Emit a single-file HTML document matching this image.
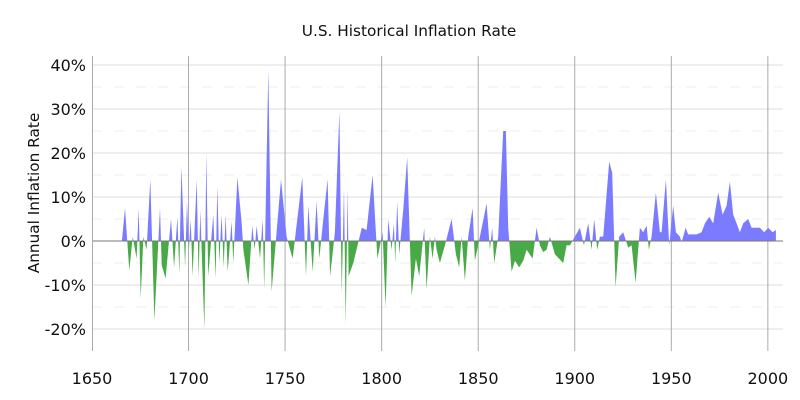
<!DOCTYPE html>
<html><head><meta charset="utf-8"><style>
html,body{margin:0;padding:0;background:#fff}
svg{display:block;font-family:"DejaVu Sans","Liberation Sans",sans-serif}
</style></head><body>
<svg id="s" width="800" height="400" viewBox="0 0 800 400">
<defs>
<clipPath id="top"><rect x="92" y="50" width="700" height="191"/></clipPath>
<clipPath id="bot"><rect x="92" y="241" width="700" height="120"/></clipPath>
</defs>
<rect width="800" height="400" fill="#fff"/>
<g id="grid"></g>
<path id="pos" fill="#7b7bff" clip-path="url(#top)"/>
<path id="neg" fill="#47aa47" clip-path="url(#bot)"/>
<line x1="92" y1="241" x2="783" y2="241" stroke="#777" stroke-width="1"/>
<line x1="92.5" y1="56" x2="92.5" y2="351" stroke="#aaa" stroke-width="1"/>
<text x="409" y="36" font-size="15.3" text-anchor="middle" fill="#111">U.S. Historical Inflation Rate</text>
<text transform="translate(39,193) rotate(-90)" font-size="15.3" text-anchor="middle" fill="#111">Annual Inflation Rate</text>
<g id="lab" font-size="16" fill="#111"></g>
</svg>
<script>
var X=function(y){return 92+(y-1650)*1.931},Y=function(v){return 241-v*4.4};
var g=document.getElementById('grid'),lab=document.getElementById('lab'),h='';
for(var v=-20;v<=40;v+=5){if(v==0)continue;var y=Y(v);
 if(v%10==0)h+='<line x1="92" x2="783" y1="'+y+'" y2="'+y+'" stroke="#ddd"/>';
 else h+='<line x1="92" x2="783" y1="'+y+'" y2="'+y+'" stroke="#eee" stroke-dasharray="10,12"/>';}
for(var yr=1700;yr<=2000;yr+=50){var x=X(yr);h+='<line x1="'+x+'" x2="'+x+'" y1="56" y2="351" stroke="#aaa"/>';}
g.innerHTML=h;
var l='';
for(var v=-20;v<=40;v+=10)l+='<text x="86" y="'+(Y(v)+6)+'" text-anchor="end">'+v+'%</text>';
for(var yr=1650;yr<=2000;yr+=50)l+='<text x="'+X(yr)+'" y="384" text-anchor="middle">'+yr+'</text>';
lab.innerHTML=l;
var A=[[1665.5,0],[1667.1,7.5],[1669.3,-6.7],[1671.1,1],[1673.1,-4],[1674.2,7.5],[1675.2,-13],[1676.6,1],[1678.3,-2],[1680.2,14],[1682.3,-18],[1685.2,7.5],[1686.1,-5.5],[1688.1,-8.5],[1690.9,5],[1692.5,-6],[1694.2,5.5],[1695.2,-7.5],[1696.3,17],[1698.2,-6],[1699.2,9],[1700.2,-2],[1701.1,5],[1702.1,-8],[1704.2,14],[1705.2,-8.5],[1706.1,7],[1708.2,-20],[1709.2,20],[1710.2,-8],[1712.8,6],[1714,-8.5],[1714.9,12.5],[1715.9,-5],[1717.1,6],[1718.2,-6],[1719.2,6],[1720.3,-7],[1722.3,4.5],[1723.2,-5],[1725.3,14.5],[1727.5,4],[1728.4,-2],[1731,-10],[1733,3.5],[1734.2,-2],[1735.3,3.5],[1737,-4],[1738.4,5],[1739.2,-11],[1741.3,39],[1743,-11.5],[1747.9,14],[1750.8,1],[1753.9,-4],[1758.9,14.5],[1760.8,-8],[1762,8],[1764.3,-7],[1766.3,9],[1767.7,-4],[1769.8,5],[1772,14],[1773.3,-8],[1775.8,2],[1778.1,29.5],[1779.3,-12],[1780.5,12],[1781.4,-19],[1782.4,12],[1782.9,-8],[1785.3,-5],[1789.7,3],[1792.2,2.5],[1795.3,15],[1797.8,-4],[1800.5,2]];
var B=[[17,-15],[25,5],[35,-2],[42,4],[46,-5],[52,9],[58,-3],[70,7],[82,19],[95,-12.5],[108,-4],[118,-8],[133,3],[140,-11],[150,1],[158,-4],[165,1],[170,-2],[180,-5],[195,-1],[215,5],[228,-3],[238,-6],[245,1],[255,-9],[265,1],[278,7.5],[285,-4.5],[300,1],[320,8.5],[330,-2],[337,3],[343,-5],[355,1],[370,25],[378,25],[385,3],[395,-7],[405,-4.5],[418,-6],[430,-4.5],[440,-2],[458,-4],[470,3],[480,-1],[490,-2.5],[500,-2],[510,1],[525,-3],[550,-5],[560,-1],[570,-1],[585,1],[600,3],[612,-1],[625,4],[635,-2],[643,5],[652,-2],[660,1],[670,1],[688,18],[697,15.5],[707,-10.5],[718,1],[730,2],[745,-1.5],[755,-1],[767,-9.5],[780,3],[790,2],[800,3.5],[807,-2],[815,1],[828,11],[840,2],[845,2],[858,14],[868,-1],[880,8],[888,2],[900,1],[905,-0.3],[917,3],[925,1.5],[935,1.5],[950,1.5],[965,2],[975,4],[988,5.5],[1000,4],[1015,11],[1028,6],[1040,8],[1050,13.5],[1060,6],[1070,4],[1080,2],[1090,4],[1105,5],[1115,3],[1125,3],[1140,3],[1153,2],[1165,3],[1178,2],[1188,2.5]];
B.forEach(function(p){A.push([1799.1+p[0]/5.793,p[1]])});
var d='M'+X(A[0][0])+',241';
A.forEach(function(p){d+='L'+X(p[0]).toFixed(1)+','+Y(p[1]).toFixed(1)});
d+='L'+X(A[A.length-1][0]).toFixed(1)+',241Z';
document.getElementById('pos').setAttribute('d',d);
document.getElementById('neg').setAttribute('d',d);
</script>
</body></html>
